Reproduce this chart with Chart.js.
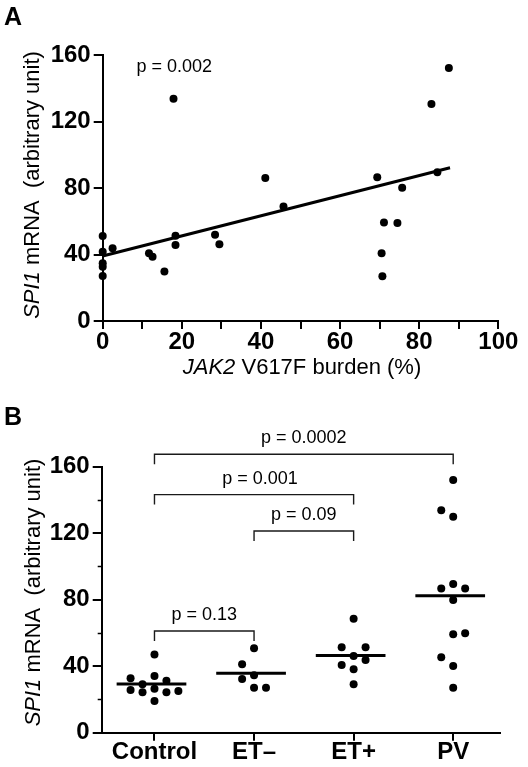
<!DOCTYPE html>
<html>
<head>
<meta charset="utf-8">
<title>SPI1 mRNA vs JAK2 V617F burden</title>
<script src="https://cdn.jsdelivr.net/npm/chart.js@4/dist/chart.umd.min.js"></script>
<style>
  body { margin: 0; background: #fff; }
  #wrap { position: relative; width: 528px; height: 767px; }
  canvas { position: absolute; left: 0; }
  #chart-a { top: 0; }
  #chart-b { top: 395px; }
</style>
</head>
<body>
<div id="wrap">
  <canvas id="chart-a" width="528" height="395"></canvas>
  <canvas id="chart-b" width="528" height="372"></canvas>
</div>
<script>
// Panel A - SPI1 mRNA against JAK2 V617F burden
const burdenPct = [0, 0, 0, 0, 0, 2.5, 11.7, 12.6, 15.6, 17.9, 18.4, 18.4, 28.4, 29.5,
  41.1, 45.7, 69.4, 70.5, 70.7, 71.1, 74.5, 75.7, 83.1, 84.6, 87.5];
const spi1A = [51.1, 41.7, 34.7, 32.7, 27.0, 43.7, 40.7, 38.7, 29.7, 133.7, 51.3, 45.7, 51.9, 46.1,
  86.0, 68.8, 86.4, 40.7, 26.9, 59.3, 58.9, 80.2, 130.5, 89.4, 152.2];
const fitX = [0, 87.8];
const fitY = [39.1, 92.2];
const xTicksA = [0, 20, 40, 60, 80, 100];
const yTicks = [0, 40, 80, 120, 160];
const pTextA = "p = 0.002";
const pPosA = [18.1, 152.8];

// Panel B - SPI1 mRNA by group (slots = horizontal dot column in the scatter)
const groups = ["Control", "ET\u2013", "ET+", "PV"];
const controlVals = [47.1, 34.1, 32.7, 31.3, 29.1, 26.5, 25.7, 25.1, 24.3, 24.3, 19.1];
const controlSlots = [0, 0, -2, 1, -1, 0, -2, 2, -1, 1, 0];
const etNegVals = [50.8, 41.1, 34.5, 32.3, 27.1, 27.1];
const etNegSlots = [0, -1, 0, -1, 0, 1];
const etPosVals = [68.6, 51.4, 51.4, 46.1, 43.7, 40.7, 38.1, 29.1];
const etPosSlots = [0, -1, 1, 0, 1, -1, 0, 0];
const pvVals = [152.0, 133.8, 129.9, 89.4, 86.8, 86.8, 79.8, 59.2, 59.8, 45.4, 40.1, 27.1];
const pvSlots = [0, -1, 0, 0, -1, 1, 0, 0, 1, -1, 0, 0];
const groupMeans = [29.3, 35.7, 46.5, 82.4];
const bracketFrom = [1, 1, 2, 1];
const bracketTo = [4, 3, 3, 2];
const bracketTop = [167.5, 143.2, 121.3, 61.2];
const bracketText = ["p = 0.0002", "p = 0.001", "p = 0.09", "p = 0.13"];

const FONT = "'Liberation Sans', Arial, Helvetica, sans-serif";
Chart.defaults.font.family = FONT;
Chart.defaults.color = "#000";

function drawMixed(ctx, parts, cx, cy, angle) {
  ctx.save();
  ctx.translate(cx, cy);
  ctx.rotate(angle);
  ctx.textAlign = "left";
  ctx.textBaseline = "alphabetic";
  let total = 0;
  parts.forEach(([t, it]) => {
    ctx.font = (it ? "italic " : "") + "22px " + FONT;
    total += ctx.measureText(t).width;
  });
  let x = -total / 2;
  parts.forEach(([t, it]) => {
    ctx.font = (it ? "italic " : "") + "22px " + FONT;
    ctx.fillText(t, x, 0);
    x += ctx.measureText(t).width;
  });
  ctx.restore();
}

const axisGrid = {
  drawOnChartArea: false,
  drawTicks: true,
  tickLength: 8,
  color: "#000",
  lineWidth: 2,
};
const axisBorder = { display: true, color: "#000", width: 2 };
const tickFont = { size: 24, weight: "bold", lineHeight: 1 };

const textA = {
  id: "textA",
  afterDraw(chart) {
    const { ctx, scales: { x, y } } = chart;
    ctx.save();
    ctx.fillStyle = "#000";
    ctx.font = "bold 25px " + FONT;
    ctx.textAlign = "left";
    ctx.textBaseline = "alphabetic";
    ctx.fillText("A", 4, 25);
    ctx.font = "18px " + FONT;
    ctx.textAlign = "center";
    ctx.textBaseline = "middle";
    ctx.fillText(pTextA, x.getPixelForValue(pPosA[0]), y.getPixelForValue(pPosA[1]));
    drawMixed(ctx, [["JAK2", true], [" V617F burden (%)", false]], 302, 373.5, 0);
    drawMixed(ctx, [["SPI1", true], [" mRNA  (arbitrary unit)", false]], 38.5, 185, -Math.PI / 2);
    ctx.restore();
  },
};

new Chart(document.getElementById("chart-a"), {
  type: "scatter",
  data: {
    datasets: [
      {
        data: fitX.map((v, i) => ({ x: v, y: fitY[i] })),
        showLine: true,
        borderColor: "#000",
        borderWidth: 3,
        pointRadius: 0,
        clip: false,
      },
      {
        data: burdenPct.map((v, i) => ({ x: v, y: spi1A[i] })),
        backgroundColor: "#000",
        borderColor: "#000",
        pointRadius: 4,
        borderWidth: 0,
        clip: false,
      },
    ],
  },
  options: {
    responsive: false,
    animation: false,
    events: [],
    layout: { padding: { top: 55, right: 29.7, bottom: 0, left: 0 } },
    plugins: { legend: { display: false }, tooltip: { enabled: false } },
    scales: {
      x: {
        type: "linear",
        min: 0,
        max: 100,
        afterFit: (s) => { s.height = 74; },
        ticks: {
          stepSize: 10,
          autoSkip: false,
          maxRotation: 0,
          padding: 1.5,
          font: tickFont,
          color: "#000",
          callback: (v) => (xTicksA.includes(v) ? v : ""),
        },
        grid: axisGrid,
        border: axisBorder,
      },
      y: {
        min: 0,
        max: 160,
        afterFit: (s) => { s.width = 102.7; },
        ticks: {
          stepSize: 40,
          padding: 3,
          font: tickFont,
          color: "#000",
          callback: (v) => (yTicks.includes(v) ? v : ""),
        },
        grid: { ...axisGrid, tickLength: 9 },
        border: axisBorder,
      },
    },
  },
  plugins: [textA],
});

const textB = {
  id: "textB",
  afterDraw(chart) {
    const { ctx, scales: { x, y } } = chart;
    ctx.save();
    ctx.fillStyle = "#000";
    ctx.strokeStyle = "#000";
    ctx.font = "bold 25px " + FONT;
    ctx.textAlign = "left";
    ctx.textBaseline = "alphabetic";
    ctx.fillText("B", 4, 30);
    // short minor ticks on the y axis
    ctx.lineWidth = 1.5;
    [20, 60, 100, 140].forEach((v) => {
      const py = Math.round(y.getPixelForValue(v)) + 0.5;
      ctx.beginPath();
      ctx.moveTo(chart.chartArea.left - 4, py);
      ctx.lineTo(chart.chartArea.left, py);
      ctx.stroke();
    });
    ctx.font = "18px " + FONT;
    ctx.textAlign = "center";
    ctx.textBaseline = "middle";
    const nudge = [0, 6, 0, 0];
    bracketText.forEach((t, i) => {
      const cx = (x.getPixelForValue(bracketFrom[i]) + x.getPixelForValue(bracketTo[i])) / 2 + nudge[i];
      ctx.fillText(t, cx, y.getPixelForValue(bracketTop[i]) - 16);
    });
    drawMixed(ctx, [["SPI1", true], [" mRNA  (arbitrary unit)", false]], 39.5, 197.5, -Math.PI / 2);
    ctx.restore();
  },
};

const groupVals = [controlVals, etNegVals, etPosVals, pvVals];
const groupSlots = [controlSlots, etNegSlots, etPosSlots, pvSlots];
const datasetsB = [];

bracketText.forEach((t, i) => {
  const a = bracketFrom[i];
  const b = bracketTo[i];
  const top = bracketTop[i];
  datasetsB.push({
    data: [
      { x: a, y: top - 6 },
      { x: a, y: top },
      { x: b, y: top },
      { x: b, y: top - 6 },
    ],
    showLine: true,
    borderColor: "#1a1a1a",
    borderWidth: 1.4,
    pointRadius: 0,
    clip: false,
  });
});

groupMeans.forEach((m, i) => {
  datasetsB.push({
    data: [
      { x: i + 1 - 0.38, y: m },
      { x: i + 1 + 0.32, y: m },
    ],
    showLine: true,
    borderColor: "#000",
    borderWidth: 3,
    pointRadius: 0,
    clip: false,
  });
});

groupVals.forEach((vals, i) => {
  datasetsB.push({
    data: vals.map((v, k) => ({ x: i + 1 + groupSlots[i][k] * 0.12, y: v })),
    backgroundColor: "#000",
    borderColor: "#000",
    pointRadius: 4,
    borderWidth: 0,
    clip: false,
  });
});

new Chart(document.getElementById("chart-b"), {
  type: "scatter",
  data: { datasets: datasetsB },
  options: {
    responsive: false,
    animation: false,
    events: [],
    layout: { padding: { top: 71.7, right: 28, bottom: 0, left: 0 } },
    plugins: { legend: { display: false }, tooltip: { enabled: false } },
    scales: {
      x: {
        type: "linear",
        min: 0.47,
        max: 4.47,
        afterFit: (s) => { s.height = 34.3; },
        afterBuildTicks: (s) => {
          s.ticks = groups.map((g, i) => ({ value: i + 1 }));
        },
        ticks: {
          autoSkip: false,
          maxRotation: 0,
          padding: 0,
          font: tickFont,
          color: "#000",
          callback: (v) => groups[v - 1] || "",
        },
        grid: axisGrid,
        border: axisBorder,
      },
      y: {
        min: 0,
        max: 160,
        afterFit: (s) => { s.width = 101.7; },
        ticks: {
          stepSize: 20,
          padding: 3,
          font: tickFont,
          color: "#000",
          callback: (v) => (yTicks.includes(v) ? v : ""),
        },
        grid: {
          ...axisGrid,
          tickLength: 9,
          tickColor: (c) => (c.tick && yTicks.includes(c.tick.value) ? "#000" : "rgba(0,0,0,0)"),
        },
        border: axisBorder,
      },
    },
  },
  plugins: [textB],
});
</script>
</body>
</html>
